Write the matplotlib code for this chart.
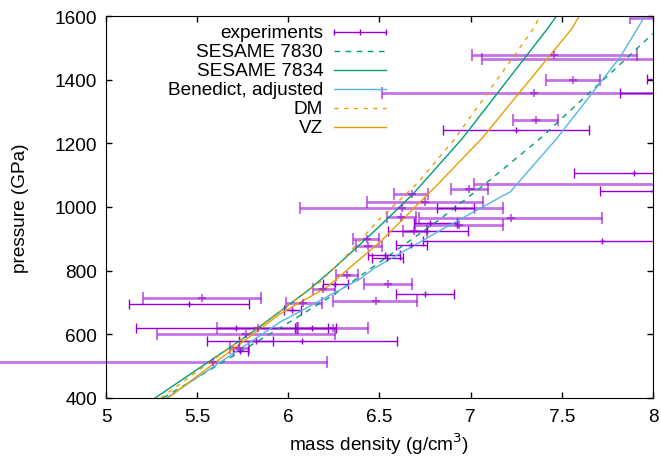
import matplotlib
matplotlib.use('Agg')
import matplotlib.pyplot as plt

plt.rcParams['font.family'] = ['Liberation Sans', 'DejaVu Sans']
plt.rcParams['font.size'] = 13.7

# experiments, thin bars: pressure (GPa) and density low / centre / high (g/cm^3)
thin_p = [1401, 1359, 1243, 1108, 1050, 997, 951, 926, 893, 882, 849, 839,
          759, 726, 694, 675, 620, 620, 578, 578, 548]
thin_lo = [7.969, 7.82, 6.847, 7.569, 7.708, 6.814, 6.690, 6.549, 6.741, 6.589, 6.439, 6.457,
           6.192, 6.589, 5.128, 5.976, 5.163, 6.036, 5.556, 5.731, 5.697]
thin_rho = [8.05, 8.2, 7.247, 7.898, 7.999, 6.914, 6.777, 6.759, 7.719, 6.671, 6.530, 6.540,
            6.256, 6.750, 5.457, 6.022, 5.713, 6.128, 6.077, 5.82, 5.735]
thin_hi = [8.13, 8.58, 7.651, 8.227, 8.29, 7.020, 6.924, 6.987, 8.70, 6.759, 6.613, 6.628,
           6.329, 6.909, 5.786, 6.070, 6.264, 6.219, 6.598, 5.914, 5.779]

# experiments, broad light bars
wide_p = [1595, 1479, 1464, 1400, 1359, 1272, 1073, 1057, 1042, 1017, 997, 968, 964, 942,
          926, 898, 877, 787, 759, 741, 715, 706, 698, 620, 620, 601, 557, 514]
wide_lo = [7.874, 7.006, 7.061, 7.414, 6.512, 7.234, 7.017, 6.891, 6.581, 6.432, 6.064, 6.540,
           6.719, 6.695, 6.628, 6.357, 6.369, 6.264, 6.417, 6.134, 5.205, 6.247, 5.986, 5.607,
           6.046, 5.278, 5.680, 4.3]
wide_rho = [8.25, 7.459, 8.3, 7.563, 7.348, 7.357, 8.1, 6.993, 6.676, 6.750, 6.622, 6.618,
            7.220, 6.938, 6.691, 6.432, 6.439, 6.320, 6.547, 6.189, 5.525, 6.479, 6.082, 5.835,
            6.247, 5.768, 5.731, 5.585]
wide_hi = [8.63, 7.914, 9.5, 7.710, 8.184, 7.481, 9.2, 7.097, 6.765, 7.070, 7.176, 6.700,
           7.719, 7.179, 6.759, 6.499, 6.512, 6.384, 6.680, 6.256, 5.850, 6.708, 6.183, 6.053,
           6.439, 6.256, 5.786, 6.211]

# model curves: density (g/cm^3) vs pressure (GPa)
s7830_rho = [5.313, 5.991, 6.256, 6.411, 6.823, 7.070, 7.381, 7.655, 7.874, 7.999]
s7830_p = [400, 633, 727, 790, 958, 1068, 1215, 1361, 1477, 1545]
s7834_rho = [5.269, 5.680, 5.827, 6.119, 6.247, 6.485, 6.686, 6.954, 7.421, 7.472]
s7834_p = [400, 559, 617, 743, 806, 931, 1042, 1215, 1560, 1601]
benedict_rho = [5.333, 5.954, 6.393, 6.466, 6.832, 7.198, 7.216, 7.472, 7.820, 7.957]
benedict_p = [400, 638, 774, 806, 926, 1042, 1047, 1215, 1471, 1601]
dm_rho = [5.30, 6.174, 6.320, 6.485, 6.713, 6.914, 7.344, 7.381]
dm_p = [400, 764, 848, 953, 1078, 1215, 1560, 1601]
vz_rho = [5.340, 5.954, 6.211, 6.503, 6.814, 7.061, 7.555, 7.596]
vz_p = [400, 664, 748, 890, 1068, 1215, 1560, 1601]

violet = '#9400d3'
green = '#009e73'
blue = '#56b4e9'
orange = '#e69f00'

fig = plt.figure(figsize=(6.61, 4.60), dpi=100)
ax = fig.add_axes([106 / 661, 1 - 399 / 460, 547 / 661, 382 / 460])

for p, lo, r, hi in zip(wide_p, wide_lo, wide_rho, wide_hi):
    ax.errorbar([r], [p], xerr=[[r - lo], [hi - r]], fmt='+', color=violet, ms=6, mew=1.5,
                elinewidth=2, capsize=4, capthick=2, alpha=0.55, clip_on=lo >= 5)
for p, lo, r, hi in zip(thin_p, thin_lo, thin_rho, thin_hi):
    ax.errorbar([r], [p], xerr=[[r - lo], [hi - r]], fmt='+', color=violet, ms=5, mew=1,
                elinewidth=1, capsize=3.5, capthick=1)

ax.plot(s7830_rho, s7830_p, color=green, lw=1, ls=(0, (4, 4)))
ax.plot(s7834_rho, s7834_p, color=green, lw=1)
ax.plot(benedict_rho, benedict_p, color=blue, lw=1)
ax.plot(dm_rho, dm_p, color=orange, lw=1, ls=(0, (3, 4)))
ax.plot(vz_rho, vz_p, color=orange, lw=1)

ax.set_xlim(5, 8)
ax.set_ylim(400, 1600)
ax.set_xticks([5, 5.5, 6, 6.5, 7, 7.5, 8])
ax.set_xticklabels(['5', '5.5', '6', '6.5', '7', '7.5', '8'])
ax.set_yticks(range(400, 1601, 200))
ax.tick_params(direction='in', length=4, top=True, right=True, width=1)
ax.tick_params(axis='x', pad=7)
ax.tick_params(axis='y', pad=6.5)
ax.set_xlabel('mass density (g/cm$^3$)', labelpad=4)
ax.set_ylabel('pressure (GPa)', labelpad=18)

# gnuplot-style key, text right-aligned left of the samples
labels = ['experiments', 'SESAME 7830', 'SESAME 7834', 'Benedict, adjusted', 'DM', 'VZ']
styles = [(violet, '-'), (green, (0, (4, 4))), (green, '-'), (blue, '-'),
          (orange, (0, (3, 4))), (orange, '-')]
x_txt, x0, x1 = 0.397, 0.417, 0.512
for i, (lab, (c, ls)) in enumerate(zip(labels, styles)):
    y = 0.957 - i * 0.0497
    ax.text(x_txt, y, lab, transform=ax.transAxes, ha='right', va='center')
    ax.plot([x0, x1], [y, y], color=c, ls=ls, lw=1, transform=ax.transAxes)
    if i == 0:
        ax.plot([x0, (x0 + x1) / 2, x1], [y] * 3, ls='none', marker='|', ms=5,
                color=c, transform=ax.transAxes)

fig.savefig('out.png', dpi=100)
